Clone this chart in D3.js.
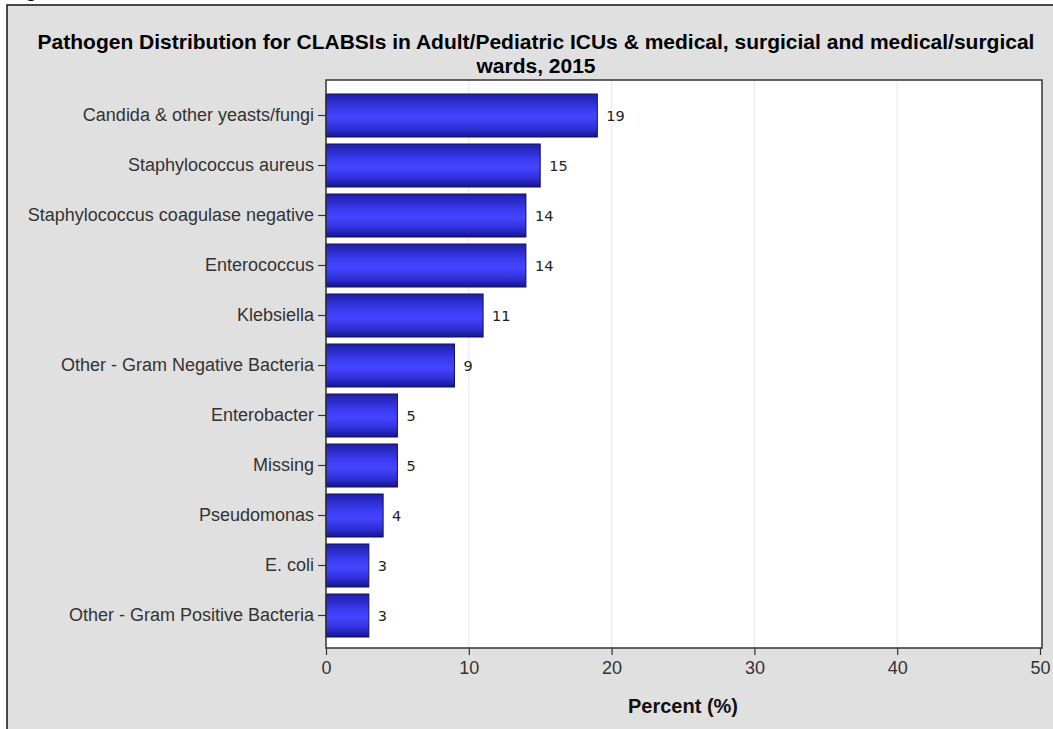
<!DOCTYPE html>
<html>
<head>
<meta charset="utf-8">
<script src="https://cdn.jsdelivr.net/npm/d3@7"></script>
<style>
  html, body { margin: 0; padding: 0; background: #ffffff; }
  svg { display: block; }
</style>
</head>
<body>
<svg id="chart" width="1053" height="729"></svg>
<script>
// Pathogen shares (%), largest first
const categories = [
  "Candida & other yeasts/fungi",
  "Staphylococcus aureus",
  "Staphylococcus coagulase negative",
  "Enterococcus",
  "Klebsiella",
  "Other - Gram Negative Bacteria",
  "Enterobacter",
  "Missing",
  "Pseudomonas",
  "E. coli",
  "Other - Gram Positive Bacteria"
];
const percents = [19, 15, 14, 14, 11, 9, 5, 5, 4, 3, 3];
const xTicks = [0, 10, 20, 30, 40, 50];
const titleLines = [
  "Pathogen Distribution for CLABSIs in Adult/Pediatric ICUs & medical, surgicial and medical/surgical",
  "wards, 2015"
];
const xLabel = "Percent (%)";

const svg = d3.select("#chart");
const W = 1053, H = 729;
const sans = "Liberation Sans, Arial, sans-serif";

// outer panel
svg.append("rect")
  .attr("x", 7).attr("y", 5).attr("width", W - 7 + 2).attr("height", H - 5 + 2)
  .attr("fill", "#e0e0e0").attr("stroke", "#111").attr("stroke-width", 1.5);

// clipped caption glyph above the panel
svg.append("text")
  .attr("x", 25).attr("y", -3)
  .attr("font-family", sans)
  .attr("font-weight", "bold").attr("font-size", 20)
  .attr("fill", "#000").text("g");

// title
svg.append("g").selectAll("text").data(titleLines).join("text")
  .attr("x", 536).attr("y", (d, i) => 49 + i * 24)
  .attr("text-anchor", "middle")
  .attr("font-family", sans)
  .attr("font-weight", "bold").attr("font-size", 21)
  .attr("fill", "#000").text(d => d);

const plot = { left: 326, right: 1042, top: 80, bottom: 648 };

const x = d3.scaleLinear().domain([0, 50]).range([326, 1040]);
const y = d3.scaleBand().domain(categories).range([90.5, 640.5])
  .paddingInner(0.14).paddingOuter(0.07);

// plot background
svg.append("rect")
  .attr("x", plot.left).attr("y", plot.top)
  .attr("width", plot.right - plot.left).attr("height", plot.bottom - plot.top)
  .attr("fill", "#fff");

// grid
svg.append("g").selectAll("line").data(xTicks.filter(t => t > 0 && t < 50)).join("line")
  .attr("x1", d => x(d)).attr("x2", d => x(d))
  .attr("y1", plot.top).attr("y2", plot.bottom)
  .attr("stroke", "#e6e6e6").attr("stroke-width", 1);

// bar gradient
const defs = svg.append("defs");
const grad = defs.append("linearGradient").attr("id", "barFill")
  .attr("x1", 0).attr("y1", 0).attr("x2", 0).attr("y2", 1);
grad.append("stop").attr("offset", "0%").attr("stop-color", "#1f1fa8");
grad.append("stop").attr("offset", "35%").attr("stop-color", "#3a3af0");
grad.append("stop").attr("offset", "55%").attr("stop-color", "#4545ff");
grad.append("stop").attr("offset", "80%").attr("stop-color", "#3030d8");
grad.append("stop").attr("offset", "100%").attr("stop-color", "#15158c");

// bars
svg.append("g").selectAll("rect").data(percents).join("rect")
  .attr("x", x(0)).attr("y", (d, i) => y(categories[i]))
  .attr("width", d => x(d) - x(0)).attr("height", y.bandwidth())
  .attr("fill", "url(#barFill)")
  .attr("stroke", "#10105a").attr("stroke-width", 1);

// value labels
svg.append("g").selectAll("text").data(percents).join("text")
  .attr("x", d => x(d) + 9)
  .attr("y", (d, i) => y(categories[i]) + y.bandwidth() / 2 + 5)
  .attr("font-family", "DejaVu Sans, Verdana, sans-serif")
  .attr("font-size", 14.5).attr("fill", "#222")
  .text(d => d);

// plot frame
svg.append("rect")
  .attr("x", plot.left).attr("y", plot.top)
  .attr("width", plot.right - plot.left).attr("height", plot.bottom - plot.top)
  .attr("fill", "none").attr("stroke", "#333").attr("stroke-width", 1.5);

// axes
const xAxis = svg.append("g")
  .attr("transform", `translate(0,${plot.bottom})`)
  .call(d3.axisBottom(x).tickValues(xTicks).tickSize(7).tickPadding(6));
const yAxis = svg.append("g")
  .attr("transform", `translate(${plot.left},0)`)
  .call(d3.axisLeft(y).tickSize(8).tickPadding(4));

[xAxis, yAxis].forEach(a => {
  a.select(".domain").remove();
  a.selectAll(".tick line").attr("stroke", "#333").attr("stroke-width", 1.2);
  a.selectAll(".tick text")
    .attr("font-family", sans)
    .attr("font-size", 18).attr("fill", "#333");
});

// x axis title
svg.append("text")
  .attr("x", 683).attr("y", 713)
  .attr("text-anchor", "middle")
  .attr("font-family", sans)
  .attr("font-weight", "bold").attr("font-size", 20)
  .attr("fill", "#111").text(xLabel);
</script>
</body>
</html>
